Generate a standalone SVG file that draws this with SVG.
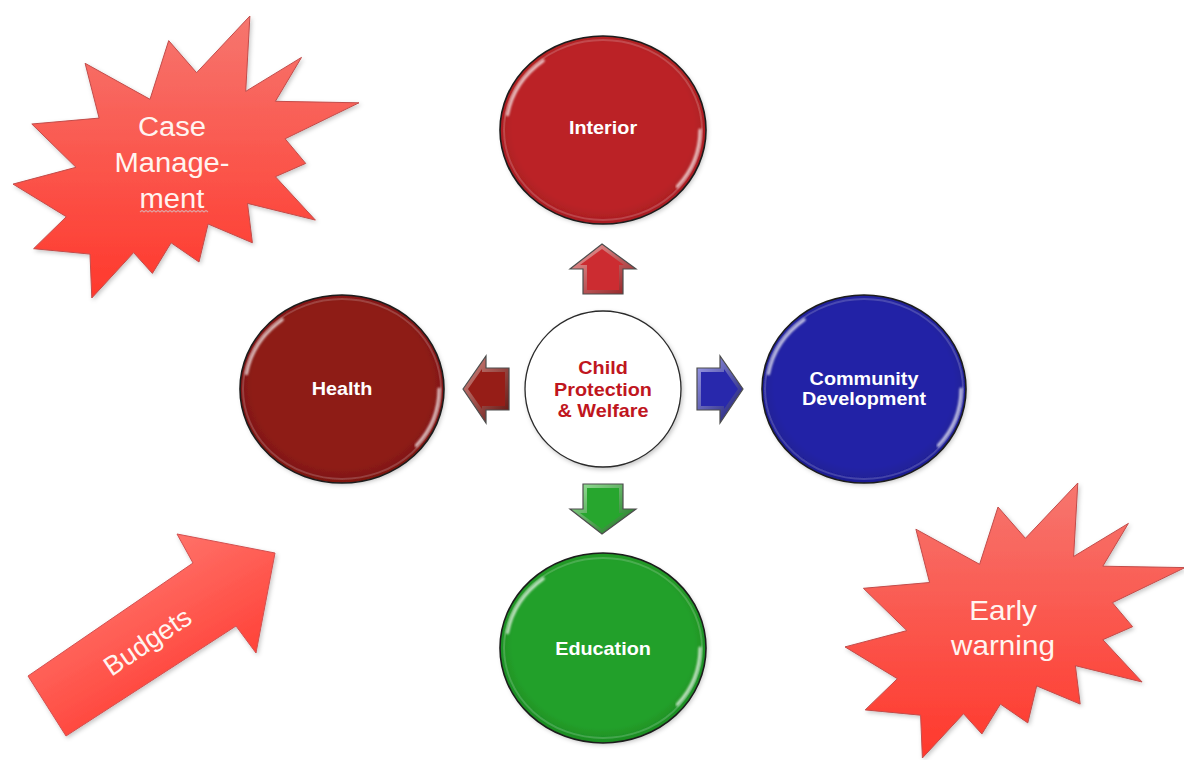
<svg xmlns="http://www.w3.org/2000/svg" width="1184" height="760" viewBox="0 0 1184 760">
  <defs>
    <style>
      .lbl { font-family: "Liberation Sans", Arial, sans-serif; text-anchor: middle; }
      .node-lbl { font-size: 18px; font-weight: bold; fill: #ffffff; }
      .center-lbl { font-size: 18px; font-weight: bold; fill: #c0161e; }
      .burst-lbl { font-size: 27px; fill: #fff4f0; }
      .rim { fill: none; stroke: #1c1c1c; stroke-width: 1.6; }
      .gloss { fill: none; stroke: #ffffff; stroke-width: 3; stroke-linecap: round; opacity: 0.75; }
      .burst { fill: url(#burstFill); stroke: #c24c4a; stroke-width: 1; }
      .arrow-edge { stroke: #4d4d4d; stroke-width: 1.2; stroke-linejoin: miter; }
    </style>
    <filter id="shadow" x="-20%" y="-20%" width="140%" height="140%">
      <feDropShadow dx="1.5" dy="2" stdDeviation="2.2" flood-color="#000" flood-opacity="0.22"/>
    </filter>
    <filter id="soft" x="-10%" y="-10%" width="120%" height="120%">
      <feGaussianBlur stdDeviation="0.8"/>
    </filter>
    <linearGradient id="burstFill" x1="0" y1="0" x2="0" y2="1">
      <stop offset="0" stop-color="#f6766f"/>
      <stop offset="1" stop-color="#ff382c"/>
    </linearGradient>
    <linearGradient id="budgetFill" x1="0" y1="0" x2="0.7" y2="1">
      <stop offset="0" stop-color="#ff8a82"/>
      <stop offset="1" stop-color="#ff3329"/>
    </linearGradient>
    <radialGradient id="fillRed" cx="0.5" cy="0.48" r="0.55">
      <stop offset="0.8" stop-color="#bb2327"/>
      <stop offset="1" stop-color="#9e1a1e"/>
    </radialGradient>
    <radialGradient id="fillMaroon" cx="0.5" cy="0.48" r="0.55">
      <stop offset="0.8" stop-color="#8e1b15"/>
      <stop offset="1" stop-color="#74140f"/>
    </radialGradient>
    <radialGradient id="fillBlue" cx="0.5" cy="0.48" r="0.55">
      <stop offset="0.8" stop-color="#2424a6"/>
      <stop offset="1" stop-color="#1a1a88"/>
    </radialGradient>
    <radialGradient id="fillGreen" cx="0.5" cy="0.48" r="0.55">
      <stop offset="0.8" stop-color="#23a02a"/>
      <stop offset="1" stop-color="#1a8420"/>
    </radialGradient>
    <!-- bevel rims of the block arrows: light upper-left, dark lower-right -->
    <linearGradient id="bevelRed" x1="0" y1="0" x2="1" y2="1">
      <stop offset="0" stop-color="#f2a2a2"/>
      <stop offset="1" stop-color="#8e1c1e"/>
    </linearGradient>
    <linearGradient id="bevelMaroon" x1="0" y1="0" x2="1" y2="1">
      <stop offset="0" stop-color="#d88a84"/>
      <stop offset="1" stop-color="#5e100c"/>
    </linearGradient>
    <linearGradient id="bevelBlue" x1="0" y1="0" x2="1" y2="1">
      <stop offset="0" stop-color="#a0a0ec"/>
      <stop offset="1" stop-color="#141470"/>
    </linearGradient>
    <linearGradient id="bevelGreen" x1="0" y1="0" x2="1" y2="1">
      <stop offset="0" stop-color="#9ee69e"/>
      <stop offset="1" stop-color="#136e18"/>
    </linearGradient>
    <!-- glossy edge highlights shared by the coloured discs -->
    <g id="discGloss">
      <path class="gloss" filter="url(#soft)" d="M-95.5 -15.3 A97 88 0 0 1 -59.8 -69.3"/>
      <path class="gloss" filter="url(#soft)" d="M97 0 A97 88 0 0 1 74.3 56.6"/>
      <ellipse rx="99" ry="90" fill="none" stroke="#ffffff" stroke-opacity="0.18" stroke-width="2"/>
    </g>
  </defs>

  <rect width="1184" height="760" fill="#ffffff"/>

  <!-- Case Management explosion -->
  <g id="node-case-management">
    <path class="burst" filter="url(#shadow)" d="M196.6 72.7 L249.9 16 L245.7 91.4 L301.5 57.4 L275.4 101.3 L359 102.8 L285.1 138.8 L305.7 163.4 L275.4 176.7 L315.4 220.1 L247.5 203.4 L252.4 242.8 L208.1 224 L199 262 L171.1 242.8 L152.4 273.4 L133.6 252.6 L91.8 298 L90 254.1 L33.6 248.7 L66.3 216.7 L13 184.1 L76 167.3 L31.8 124 L99.1 118.1 L85.1 63.3 L150 99.3 L168.7 40.6 Z"/>
    <g transform="translate(172,0) scale(1.08,1)">
      <text class="lbl burst-lbl" x="0" y="136">Case</text>
      <text class="lbl burst-lbl" x="0" y="172">Manage-</text>
      <text class="lbl burst-lbl" x="0" y="208">ment</text>
    </g>
    <!-- spell-check squiggle under the last line -->
    <path d="M140 212 l2 -1.6 2 1.6 2 -1.6 2 1.6 2 -1.6 2 1.6 2 -1.6 2 1.6 2 -1.6 2 1.6 2 -1.6 2 1.6 2 -1.6 2 1.6 2 -1.6 2 1.6 2 -1.6 2 1.6 2 -1.6 2 1.6 2 -1.6 2 1.6 2 -1.6 2 1.6 2 -1.6 2 1.6 2 -1.6 2 1.6 2 -1.6 2 1.6 2 -1.6 2 1.6 2 -1.6 2 1.6" fill="none" stroke="#e0a0a0" stroke-width="1.2"/>
  </g>

  <!-- Early warning explosion -->
  <g id="node-early-warning">
    <path class="burst" filter="url(#shadow)" d="M1025.4 538.3 L1077.8 483 L1073.6 556.5 L1128.4 523.4 L1102.8 566.2 L1185 567.6 L1112.4 602.7 L1132.6 626.7 L1102.8 639.7 L1142.1 682 L1075.4 665.7 L1080.2 704.1 L1036.7 685.9 L1027.8 722.9 L1000.4 704.1 L981.9 734 L963.5 713.7 L922.4 758 L920.6 715.2 L865.2 709.9 L897.4 678.7 L845 646.9 L906.9 630.6 L863.4 588.3 L929.6 582.5 L915.9 529.2 L979.6 564.3 L998 507 Z"/>
    <g transform="translate(1003,0) scale(1.1,1)">
      <text class="lbl burst-lbl" x="0" y="620">Early</text>
      <text class="lbl burst-lbl" x="0" y="655">warning</text>
    </g>
  </g>

  <!-- Budgets arrow -->
  <g id="node-budgets">
    <path d="M28 676 L193 563 L177 534 L275 553 L256 653 L236 626 L66 736 Z" fill="url(#budgetFill)" stroke="#d25050" stroke-width="1" filter="url(#shadow)"/>
    <g transform="translate(147,641) rotate(-34)">
      <text class="lbl burst-lbl" x="0" y="10" font-size="28">Budgets</text>
    </g>
  </g>

  <!-- block arrows radiating from the hub -->
  <g id="connectors">
    <g id="arrow-up">
      <path class="arrow-edge" fill="url(#bevelRed)" d="M602 244 L636 269 L623 269 L623 294 L583 294 L583 269 L570 269 Z"/>
      <path fill="#cc2c31" d="M602 249 L624 265 L619 265 L619 290 L587 290 L587 265 L580 265 Z"/>
    </g>
    <g id="arrow-left">
      <path class="arrow-edge" fill="url(#bevelMaroon)" d="M463 389 L486 356 L486 368 L509 368 L509 410 L486 410 L486 423 Z"/>
      <path fill="#961d17" d="M468 389 L482 369 L482 372 L505 372 L505 406 L482 406 L482 409 Z"/>
    </g>
    <g id="arrow-right">
      <path class="arrow-edge" fill="url(#bevelBlue)" d="M697 368 L720 368 L720 356 L743 389 L720 423 L720 410 L697 410 Z"/>
      <path fill="#2828ac" d="M701 372 L724 372 L724 369 L738 389 L724 409 L724 406 L701 406 Z"/>
    </g>
    <g id="arrow-down">
      <path class="arrow-edge" fill="url(#bevelGreen)" d="M583 484 L623 484 L623 509 L636 509 L602 534 L570 509 L583 509 Z"/>
      <path fill="#27a62e" d="M587 488 L619 488 L619 513 L624 513 L602 529 L580 513 L587 513 Z"/>
    </g>
  </g>

  <!-- hub -->
  <g id="node-center" transform="translate(603,389)">
    <circle r="78" fill="#ffffff" stroke="#2a2a2a" stroke-width="1.3" filter="url(#shadow)"/>
    <g transform="scale(1.1,1)">
      <text class="lbl center-lbl" x="0" y="-15">Child</text>
      <text class="lbl center-lbl" x="0" y="7">Protection</text>
      <text class="lbl center-lbl" x="0" y="28">&amp; Welfare</text>
    </g>
  </g>

  <g id="node-interior" transform="translate(603,130)">
    <ellipse rx="103" ry="94" fill="url(#fillRed)" filter="url(#shadow)"/>
    <use href="#discGloss"/>
    <ellipse class="rim" rx="103" ry="94"/>
    <g transform="scale(1.1,1)">
      <text class="lbl node-lbl" x="0" y="4">Interior</text>
    </g>
  </g>

  <g id="node-health" transform="translate(342,389)">
    <ellipse rx="102" ry="94" fill="url(#fillMaroon)" filter="url(#shadow)"/>
    <use href="#discGloss"/>
    <ellipse class="rim" rx="102" ry="94"/>
    <g transform="scale(1.1,1)">
      <text class="lbl node-lbl" x="0" y="6">Health</text>
    </g>
  </g>

  <g id="node-community" transform="translate(864,389)">
    <ellipse rx="102" ry="94" fill="url(#fillBlue)" filter="url(#shadow)"/>
    <use href="#discGloss"/>
    <ellipse class="rim" rx="102" ry="94"/>
    <g transform="scale(1.1,1)">
      <text class="lbl node-lbl" x="0" y="-4">Community</text>
      <text class="lbl node-lbl" x="0" y="16">Development</text>
    </g>
  </g>

  <g id="node-education" transform="translate(603,648)">
    <ellipse rx="103" ry="95" fill="url(#fillGreen)" filter="url(#shadow)"/>
    <use href="#discGloss"/>
    <ellipse class="rim" rx="103" ry="95"/>
    <g transform="scale(1.1,1)">
      <text class="lbl node-lbl" x="0" y="7">Education</text>
    </g>
  </g>
</svg>
